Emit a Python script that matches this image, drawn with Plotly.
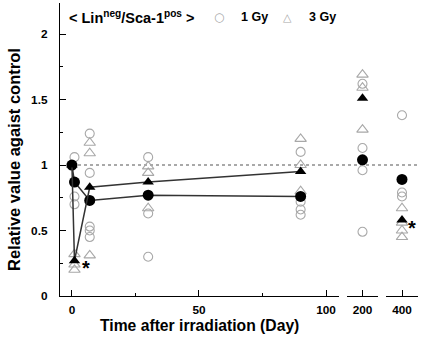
import plotly.graph_objects as go

# ---------------- data ----------------
# individual values (open markers), early phase (days 0-100 panel)
gy1_early_days = [1, 1, 1, 7, 7, 7, 7, 7, 30, 30, 30, 90, 90, 90, 90]
gy1_early_vals = [1.06, 0.76, 0.70, 1.24, 0.94, 0.53, 0.50, 0.45, 1.06, 0.63, 0.30, 1.10, 0.72, 0.66, 0.62]
gy3_early_days = [1, 1, 1, 7, 7, 7, 30, 30, 30, 90, 90, 90]
gy3_early_vals = [0.32, 0.24, 0.20, 1.17, 1.09, 0.31, 0.99, 0.94, 0.67, 1.20, 1.00, 0.80]
# individual values, late time points
gy1_day200 = [1.62, 1.13, 0.96, 0.49]
gy1_day400 = [1.38, 0.79, 0.76]
gy3_day200 = [1.69, 1.59, 1.27]
gy3_day400 = [0.67, 0.56, 0.50, 0.45]
# means (filled markers)
mean_days = [0, 1, 7, 30, 90]
gy1_mean = [1.0, 0.87, 0.73, 0.77, 0.76]
gy3_mean = [1.0, 0.27, 0.83, 0.87, 0.95]
gy1_mean_200, gy1_mean_400 = 1.04, 0.89
gy3_mean_200, gy3_mean_400 = 1.51, 0.58

y_ticks = [0, 0.5, 1, 1.5, 2]
y_tick_labels = ["0", "0.5", "1", "1.5", "2"]
x1_ticks = [0, 50, 100]

FONT = "Liberation Sans, Arial, sans-serif"
GREY = "#a8a8a8"

fig = go.Figure()

open_circ = dict(symbol="circle-open", size=9, color=GREY, line=dict(width=1.1, color=GREY))
open_tri = dict(symbol="triangle-up-open", size=10, color=GREY, line=dict(width=1.1, color=GREY))
fill_circ = dict(symbol="circle", size=11, color="black")
fill_tri = dict(symbol="triangle-up", size=10, color="black")

# panel 1
fig.add_trace(go.Scatter(x=gy1_early_days, y=gy1_early_vals, mode="markers", marker=open_circ, xaxis="x", yaxis="y"))
fig.add_trace(go.Scatter(x=gy3_early_days, y=gy3_early_vals, mode="markers", marker=open_tri, xaxis="x", yaxis="y"))
fig.add_trace(go.Scatter(x=mean_days, y=gy1_mean, mode="lines+markers", marker=fill_circ,
                         line=dict(color="#333", width=1.5), xaxis="x", yaxis="y"))
fig.add_trace(go.Scatter(x=mean_days, y=gy3_mean, mode="lines+markers", marker=fill_tri,
                         line=dict(color="#333", width=1.5), xaxis="x", yaxis="y"))
# panel 2 (day 200)
fig.add_trace(go.Scatter(x=[200] * len(gy1_day200), y=gy1_day200, mode="markers", marker=open_circ, xaxis="x2", yaxis="y"))
fig.add_trace(go.Scatter(x=[200] * len(gy3_day200), y=gy3_day200, mode="markers", marker=open_tri, xaxis="x2", yaxis="y"))
fig.add_trace(go.Scatter(x=[200], y=[gy1_mean_200], mode="markers", marker=fill_circ, xaxis="x2", yaxis="y"))
fig.add_trace(go.Scatter(x=[200], y=[gy3_mean_200], mode="markers", marker=fill_tri, xaxis="x2", yaxis="y"))
# panel 3 (day 400)
fig.add_trace(go.Scatter(x=[400] * len(gy1_day400), y=gy1_day400, mode="markers", marker=open_circ, xaxis="x3", yaxis="y"))
fig.add_trace(go.Scatter(x=[400] * len(gy3_day400), y=gy3_day400, mode="markers", marker=open_tri, xaxis="x3", yaxis="y"))
fig.add_trace(go.Scatter(x=[400], y=[gy1_mean_400], mode="markers", marker=fill_circ, xaxis="x3", yaxis="y"))
fig.add_trace(go.Scatter(x=[400], y=[gy3_mean_400], mode="markers", marker=fill_tri, xaxis="x3", yaxis="y"))

W, H = 425, 347
L, R, T, B = 60, 7, 3, 51
pw = W - L - R
ph = H - T - B

def px(xpix):
    return (xpix - L) / pw

def py(ypix):
    return (H - B - ypix) / ph

tickfont = dict(family=FONT, size=11.8, color="black", weight="bold")
common_x = dict(showline=True, linecolor="black", linewidth=1.3, ticks="inside", ticklen=6,
                tickcolor="black", tickwidth=1.3, showgrid=False, zeroline=False,
                tickfont=tickfont, anchor="y", ticklabelstandoff=3)

fig.update_layout(
    width=W, height=H, margin=dict(l=L, r=R, t=T, b=B, autoexpand=False),
    plot_bgcolor="white", paper_bgcolor="white", showlegend=False,
    xaxis=dict(domain=[0, px(339)], range=[-4.7, 105.1], tickvals=x1_ticks,
               minor=dict(tickvals=[25, 75], ticks="inside", ticklen=3, tickcolor="black", tickwidth=1.3),
               **common_x),
    xaxis2=dict(domain=[px(347), px(378)], range=[185, 215], tickvals=[200], **common_x),
    xaxis3=dict(domain=[px(386), 1.0], range=[370, 430], tickvals=[400], **common_x),
    yaxis=dict(range=[0, 2.237], tickvals=y_ticks, ticktext=y_tick_labels, showline=True,
               linecolor="black", linewidth=1.3, ticks="inside", ticklen=6, tickcolor="black",
               tickwidth=1.3, showgrid=False, zeroline=False, tickfont=tickfont,
               ticklabelstandoff=9,
               minor=dict(tickvals=[0.25, 0.75, 1.25, 1.75], ticks="inside", ticklen=3,
                          tickcolor="black", tickwidth=1.3)),
    shapes=[dict(type="line", xref="paper", yref="y", x0=px(72), x1=1.0, y0=1, y1=1,
                 line=dict(color="#555", width=1.2, dash="dot"), layer="below")],
)

ann = []
ann.append(dict(text="Relative value agaist control", xref="paper", yref="paper",
                x=px(14), y=py(160), textangle=-90, showarrow=False,
                font=dict(family=FONT, size=16.5, color="black", weight="bold"),
                xanchor="center", yanchor="middle"))
ann.append(dict(text="Time after irradiation (Day)", xref="paper", yref="paper",
                x=px(199), y=py(325), showarrow=False,
                font=dict(family=FONT, size=15.7, color="black", weight="bold"),
                xanchor="center", yanchor="middle"))
ann.append(dict(text="< Lin<sup>neg</sup>/Sca-1<sup>pos</sup> >", xref="paper", yref="paper",
                x=px(67), y=py(17), showarrow=False, xanchor="left", yanchor="middle",
                font=dict(family=FONT, size=14.5, color="black", weight="bold")))
ann.append(dict(text="○", xref="paper", yref="paper", x=px(219), y=py(17),
                showarrow=False, xanchor="center", yanchor="middle", font=dict(family="DejaVu Sans", size=12, color=GREY)))
ann.append(dict(text="1 Gy", xref="paper", yref="paper", x=px(239), y=py(17),
                showarrow=False, xanchor="left", yanchor="middle", font=dict(family=FONT, size=12.5, color="black", weight="bold")))
ann.append(dict(text="△", xref="paper", yref="paper", x=px(287), y=py(17),
                showarrow=False, xanchor="center", yanchor="middle", font=dict(family="DejaVu Sans", size=11, color=GREY)))
ann.append(dict(text="3 Gy", xref="paper", yref="paper", x=px(307), y=py(17),
                showarrow=False, xanchor="left", yanchor="middle", font=dict(family=FONT, size=12.5, color="black", weight="bold")))
# significance marks
ann.append(dict(text="*", xref="x", yref="y", x=5.6, y=0.21, showarrow=False,
                font=dict(family=FONT, size=20, color="black", weight="bold")))
ann.append(dict(text="*", xref="x3", yref="y", x=419, y=0.52, showarrow=False,
                font=dict(family=FONT, size=20, color="black", weight="bold")))
fig.update_layout(annotations=ann)

fig.write_html("out.html", config={"displayModeBar": False},
               post_script="document.body.style.margin='0';document.body.style.padding='0';")
